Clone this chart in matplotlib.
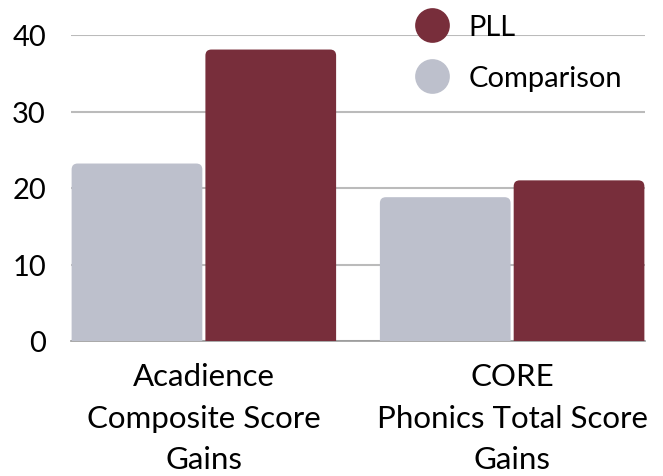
import matplotlib
matplotlib.use("Agg")
import matplotlib.pyplot as plt
from matplotlib.patches import FancyBboxPatch
from matplotlib.lines import Line2D
import numpy as np

categories = ["Acadience\nComposite Score\nGains", "CORE\nPhonics Total Score\nGains"]
comparison = [23.2, 18.8]
pll = [38.1, 21.0]
yticks = [0, 10, 20, 30, 40]

C_GRAY = "#BDC0CC"
C_RED = "#782E3B"

plt.rcParams['font.family'] = ['Lato', 'DejaVu Sans']

fig = plt.figure(figsize=(6.63, 4.77), dpi=100)
ax = fig.add_axes([71/663, 1-342/477, (645-71)/663, (342-36)/477])

x = np.arange(len(categories))
w = 0.424
b1 = ax.bar(x - 0.217, comparison, w, color=C_GRAY, zorder=3)
b2 = ax.bar(x + 0.217, pll, w, color=C_RED, zorder=3)

ax.set_xlim(-0.431, 1.431)
ax.set_ylim(0, 40)

# rounded tops
rx = 6/308.5
ry = 6/7.65
for bars in (b1, b2):
    for r in bars:
        x0, y0, ww, hh = r.get_x(), r.get_y(), r.get_width(), r.get_height()
        p = FancyBboxPatch((x0, y0 - 2*ry), ww, hh + 2*ry,
                           boxstyle=f"round,pad=0,rounding_size={rx}",
                           mutation_aspect=ry/rx, facecolor=r.get_facecolor(),
                           edgecolor='none', zorder=3)
        r.remove()
        ax.add_patch(p)

ax.set_yticks(yticks)
ax.set_yticklabels([str(v) for v in yticks])
ax.yaxis.grid(True, color="#BBBBBB", linewidth=1.5, zorder=0)
ax.set_axisbelow(True)
for s in ["top", "right", "left"]:
    ax.spines[s].set_visible(False)
ax.spines["bottom"].set_color("#999999")
ax.spines["bottom"].set_linewidth(1.2)
ax.tick_params(axis='y', length=0, pad=18, labelsize=21, colors='black')
ax.set_xticks(x)
ax.set_xticklabels(categories, linespacing=1.6)
ax.tick_params(axis='x', length=0, pad=15, labelsize=22.5)

handles = [Line2D([], [], marker='o', linestyle='none', markersize=25, markerfacecolor=C_RED, markeredgecolor='none'),
           Line2D([], [], marker='o', linestyle='none', markersize=25, markerfacecolor=C_GRAY, markeredgecolor='none')]
fig.legend(handles, ["PLL", "Comparison"], loc="upper left", bbox_to_anchor=(403/663, 1 - 15/477),
           frameon=False, fontsize=21, handletextpad=0.25, labelspacing=0.85, borderaxespad=0,
           borderpad=0)

fig.savefig("out.png", dpi=100)
